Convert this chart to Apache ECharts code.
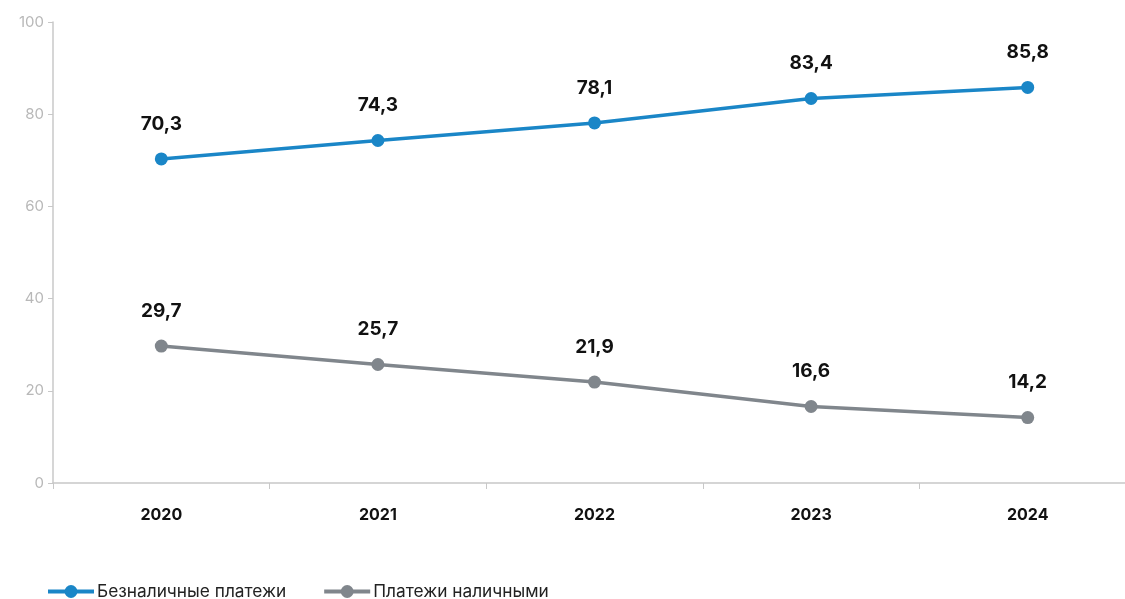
<!DOCTYPE html>
<html>
<head>
<meta charset="utf-8">
<script src="https://cdn.jsdelivr.net/npm/echarts@6/dist/echarts.min.js"></script>
<style>
  html, body { margin: 0; padding: 0; background: #fff; }
  #chart { width: 1125px; height: 599px; }
</style>
</head>
<body>
<div id="chart"></div>
<script>
// Доля безналичных платежей и платежей наличными, %
const years = ['2020', '2021', '2022', '2023', '2024'];
const cashless = [70.3, 74.3, 78.1, 83.4, 85.8];
const cash = [29.7, 25.7, 21.9, 16.6, 14.2];
const seriesNames = ['Безналичные платежи', 'Платежи наличными'];
const colors = ['#1a86c7', '#80868c'];

const fontFamily = 'Inter, "Noto Sans", sans-serif';
const fmt = v => String(v).replace('.', ',');

const chart = echarts.init(document.getElementById('chart'));

function lineSeries(name, data, color) {
  return {
    name: name,
    type: 'line',
    data: data,
    symbol: 'circle',
    symbolSize: 13,
    itemStyle: { color: color },
    lineStyle: { color: color, width: 3.5 },
    label: {
      show: true,
      position: 'top',
      distance: 19,
      color: '#111',
      fontFamily: fontFamily,
      fontWeight: 'bold',
      fontSize: 19,
      formatter: p => fmt(p.value)
    },
    emphasis: { disabled: true }
  };
}

chart.setOption({
  animation: false,
  color: colors,
  // the plot runs slightly past the right edge of the canvas
  grid: { left: 53, top: 22, right: -11, bottom: 116, outerBoundsMode: 'none', containLabel: false },
  legend: {
    left: 41,
    top: 578,
    itemWidth: 46,
    itemHeight: 16,
    itemGap: 36,
    lineStyle: { width: 4 },
    textStyle: { color: '#222', fontFamily: fontFamily, fontSize: 17.3, padding: [0, 0, 0, -2] },
    data: seriesNames
  },
  xAxis: {
    type: 'category',
    data: years,
    boundaryGap: true,
    axisLine: { lineStyle: { color: '#c8c8c8', width: 1.5 } },
    axisTick: { show: true, length: 6, lineStyle: { color: '#c8c8c8' } },
    axisLabel: {
      color: '#111',
      fontFamily: fontFamily,
      fontWeight: 'bold',
      fontSize: 16,
      margin: 24
    },
    splitLine: { show: false }
  },
  yAxis: {
    type: 'value',
    min: 0,
    max: 100,
    interval: 20,
    axisLine: { show: true, lineStyle: { color: '#c8c8c8', width: 1.5 } },
    axisTick: { show: true, length: 5, lineStyle: { color: '#c8c8c8' } },
    axisLabel: { color: '#b8b8b8', fontFamily: fontFamily, fontSize: 15, margin: 9 },
    splitLine: { show: false }
  },
  series: [
    lineSeries(seriesNames[0], cashless, colors[0]),
    lineSeries(seriesNames[1], cash, colors[1])
  ]
});
</script>
</body>
</html>
